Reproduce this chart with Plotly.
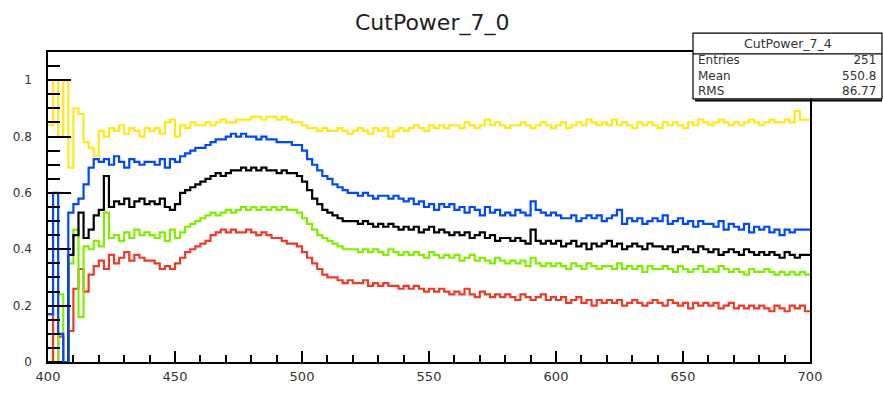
import plotly.graph_objects as go

# ---- data: histogram contents, 150 bins of width 2 from 400 to 700 ----
x_edges = list(range(400, 701, 2))

yellow_vals = [
    0.84, 1.00, 0.80, 1.00, 0.69, 0.90, 0.88, 0.78, 0.76, 0.73,
    0.82, 0.80, 0.83, 0.82, 0.84, 0.81, 0.83, 0.82, 0.80, 0.83,
    0.82, 0.83, 0.81, 0.85, 0.86, 0.80, 0.84, 0.83, 0.85, 0.84,
    0.84, 0.85, 0.84, 0.85, 0.86, 0.85, 0.85, 0.86, 0.86, 0.86,
    0.87, 0.87, 0.86, 0.87, 0.87, 0.86, 0.87, 0.86, 0.85, 0.85,
    0.84, 0.83, 0.83, 0.82, 0.83, 0.82, 0.82, 0.83, 0.82, 0.81,
    0.82, 0.83, 0.82, 0.81, 0.83, 0.82, 0.83, 0.80, 0.82, 0.83,
    0.82, 0.83, 0.84, 0.83, 0.82, 0.84, 0.83, 0.84, 0.83, 0.84,
    0.84, 0.83, 0.85, 0.84, 0.83, 0.84, 0.86, 0.84, 0.85, 0.84,
    0.83, 0.84, 0.84, 0.85, 0.84, 0.83, 0.84, 0.85, 0.84, 0.83,
    0.84, 0.85, 0.83, 0.84, 0.85, 0.84, 0.86, 0.85, 0.84, 0.85,
    0.84, 0.86, 0.84, 0.85, 0.84, 0.83, 0.85, 0.84, 0.85, 0.84,
    0.83, 0.85, 0.84, 0.85, 0.84, 0.83, 0.85, 0.84, 0.86, 0.85,
    0.84, 0.85, 0.86, 0.85, 0.84, 0.85, 0.84, 0.85, 0.86, 0.85,
    0.84, 0.85, 0.86, 0.85, 0.85, 0.86, 0.85, 0.89, 0.86, 0.86,
]

blue_vals = [
    0.17, 0.60, 0.10, 0.00, 0.53, 0.56, 0.58, 0.63, 0.69, 0.72,
    0.71, 0.72, 0.70, 0.73, 0.71, 0.69, 0.72, 0.71, 0.70, 0.71,
    0.71, 0.70, 0.72, 0.69, 0.72, 0.71, 0.73, 0.74, 0.75, 0.76,
    0.76, 0.77, 0.78, 0.79, 0.79, 0.80, 0.81, 0.80, 0.81, 0.80,
    0.80, 0.79, 0.80, 0.79, 0.79, 0.78, 0.78, 0.78, 0.77, 0.77,
    0.75, 0.72, 0.70, 0.68, 0.66, 0.65, 0.63, 0.62, 0.61, 0.60,
    0.60, 0.59, 0.60, 0.59, 0.58, 0.59, 0.59, 0.58, 0.59, 0.58,
    0.57, 0.58, 0.56, 0.57, 0.55, 0.56, 0.54, 0.56, 0.55, 0.56,
    0.54, 0.55, 0.53, 0.55, 0.54, 0.52, 0.55, 0.53, 0.54, 0.52,
    0.53, 0.52, 0.54, 0.53, 0.52, 0.57, 0.54, 0.53, 0.52, 0.53,
    0.52, 0.51, 0.51, 0.52, 0.50, 0.51, 0.52, 0.51, 0.52, 0.50,
    0.51, 0.52, 0.54, 0.49, 0.51, 0.50, 0.51, 0.49, 0.50, 0.51,
    0.50, 0.52, 0.49, 0.50, 0.51, 0.49, 0.50, 0.48, 0.50, 0.49,
    0.49, 0.48, 0.50, 0.47, 0.49, 0.48, 0.47, 0.49, 0.46, 0.48,
    0.47, 0.48, 0.46, 0.47, 0.45, 0.47, 0.46, 0.47, 0.47, 0.47,
]

black_vals = [
    0.00, 0.00, 0.00, 0.00, 0.38, 0.45, 0.53, 0.44, 0.47, 0.52,
    0.54, 0.66, 0.55, 0.57, 0.56, 0.58, 0.55, 0.57, 0.58, 0.56,
    0.57, 0.56, 0.58, 0.55, 0.54, 0.56, 0.60, 0.61, 0.62, 0.63,
    0.64, 0.65, 0.66, 0.67, 0.66, 0.67, 0.68, 0.68, 0.69, 0.68,
    0.69, 0.68, 0.69, 0.68, 0.68, 0.67, 0.68, 0.67, 0.67, 0.66,
    0.64, 0.61, 0.58, 0.56, 0.54, 0.53, 0.52, 0.51, 0.50, 0.50,
    0.50, 0.49, 0.50, 0.49, 0.48, 0.49, 0.48, 0.49, 0.48, 0.47,
    0.48, 0.47, 0.48, 0.46, 0.47, 0.48, 0.46, 0.47, 0.46, 0.45,
    0.46, 0.45, 0.46, 0.44, 0.45, 0.46, 0.44, 0.45, 0.43, 0.44,
    0.44, 0.43, 0.44, 0.43, 0.42, 0.47, 0.43, 0.42, 0.43, 0.42,
    0.43, 0.41, 0.42, 0.43, 0.41, 0.42, 0.40, 0.42, 0.41, 0.42,
    0.43, 0.41, 0.42, 0.40, 0.41, 0.42, 0.41, 0.40, 0.42, 0.41,
    0.41, 0.40, 0.41, 0.39, 0.40, 0.41, 0.40, 0.39, 0.41, 0.40,
    0.39, 0.40, 0.38, 0.39, 0.40, 0.39, 0.38, 0.40, 0.39, 0.38,
    0.39, 0.38, 0.39, 0.38, 0.37, 0.39, 0.38, 0.37, 0.38, 0.38,
]

green_vals = [
    0.00, 0.00, 0.24, 0.00, 0.35, 0.47, 0.16, 0.41, 0.40, 0.43,
    0.41, 0.53, 0.44, 0.45, 0.43, 0.46, 0.44, 0.47, 0.45, 0.46,
    0.45, 0.44, 0.46, 0.43, 0.47, 0.44, 0.46, 0.48, 0.49, 0.50,
    0.51, 0.52, 0.53, 0.52, 0.53, 0.54, 0.53, 0.54, 0.55, 0.54,
    0.55, 0.54, 0.55, 0.54, 0.55, 0.54, 0.55, 0.54, 0.54, 0.53,
    0.51, 0.49, 0.47, 0.45, 0.44, 0.43, 0.42, 0.41, 0.40, 0.40,
    0.40, 0.39, 0.40, 0.39, 0.40, 0.39, 0.38, 0.40, 0.39, 0.38,
    0.39, 0.38, 0.39, 0.38, 0.37, 0.39, 0.38, 0.37, 0.38, 0.37,
    0.38, 0.36, 0.37, 0.38, 0.36, 0.37, 0.36, 0.35, 0.37, 0.36,
    0.35, 0.36, 0.35, 0.36, 0.34, 0.37, 0.35, 0.34, 0.35, 0.34,
    0.35, 0.34, 0.33, 0.35, 0.34, 0.33, 0.35, 0.34, 0.33, 0.34,
    0.34, 0.33, 0.35, 0.33, 0.34, 0.33, 0.34, 0.32, 0.34, 0.33,
    0.33, 0.34, 0.33, 0.32, 0.34, 0.33, 0.32, 0.33, 0.34, 0.32,
    0.33, 0.32, 0.34, 0.33, 0.32, 0.33, 0.32, 0.31, 0.33, 0.32,
    0.32, 0.33, 0.32, 0.31, 0.32, 0.31, 0.32, 0.31, 0.32, 0.31,
]

red_vals = [
    0.17, 0.00, 0.09, 0.00, 0.11, 0.26, 0.33, 0.25, 0.31, 0.34,
    0.36, 0.33, 0.38, 0.35, 0.37, 0.39, 0.36, 0.38, 0.37, 0.36,
    0.36, 0.35, 0.33, 0.34, 0.33, 0.35, 0.37, 0.39, 0.40, 0.41,
    0.42, 0.43, 0.45, 0.46, 0.47, 0.46, 0.47, 0.46, 0.46, 0.47,
    0.46, 0.45, 0.46, 0.45, 0.44, 0.44, 0.43, 0.42, 0.42, 0.41,
    0.39, 0.37, 0.35, 0.33, 0.31, 0.30, 0.30, 0.29, 0.28, 0.29,
    0.28, 0.28, 0.29, 0.27, 0.28, 0.27, 0.28, 0.27, 0.27, 0.26,
    0.27, 0.26, 0.27, 0.26, 0.25, 0.26, 0.25, 0.26, 0.25, 0.24,
    0.25, 0.24, 0.26, 0.24, 0.23, 0.25, 0.24, 0.23, 0.24, 0.23,
    0.24, 0.23, 0.22, 0.24, 0.23, 0.22, 0.23, 0.24, 0.22, 0.23,
    0.22, 0.23, 0.21, 0.22, 0.23, 0.21, 0.22, 0.20, 0.22, 0.21,
    0.22, 0.21, 0.22, 0.20, 0.21, 0.22, 0.21, 0.20, 0.21, 0.22,
    0.21, 0.20, 0.22, 0.21, 0.20, 0.21, 0.19, 0.21, 0.20, 0.21,
    0.20, 0.21, 0.19, 0.20, 0.21, 0.19, 0.20, 0.19, 0.20, 0.19,
    0.20, 0.19, 0.18, 0.20, 0.19, 0.18, 0.20, 0.19, 0.20, 0.18,
]

series_names = ["CutPower_7_0", "CutPower_7_1", "CutPower_7_2", "CutPower_7_3", "CutPower_7_4"]
series_colors = ["#ee3a28", "#80ee00", "#000000", "#0048ff", "#ffe81a"]
series_values = [red_vals, green_vals, black_vals, blue_vals, yellow_vals]

title_text = "CutPower_7_0"
stats_title = "CutPower_7_4"
stats_labels = ["Entries", "Mean", "RMS"]
stats_values = ["251", "550.8", "86.77"]

# ---- figure ----
fig = go.Figure()
for name, color, vals in zip(series_names, series_colors, series_values):
    fig.add_trace(go.Scatter(
        x=x_edges,
        y=vals + [vals[-1]],
        mode="lines",
        line=dict(color=color, width=2.2, shape="hv"),
        name=name,
        showlegend=False,
        hoverinfo="skip",
    ))

W, H = 883, 396
L, R, T, B = 48, 73, 52, 14
pw, ph = W - L - R, H - T - B


def px(xp):
    return (xp - L) / pw


def py(yp):
    return (H - B - yp) / ph


FONT = "DejaVu Sans, Arial, sans-serif"

fig.update_layout(
    width=W, height=H, autosize=False,
    margin=dict(l=L, r=R, t=T, b=B, pad=0),
    paper_bgcolor="white", plot_bgcolor="white",
    font=dict(family=FONT, color="#222"),
    xaxis=dict(
        range=[400, 700], showgrid=False, zeroline=False,
        showline=True, linecolor="black", linewidth=1.5, mirror=True,
        ticks="inside", ticklen=11, tickwidth=1.5, tickcolor="black",
        tick0=400, dtick=50,
        minor=dict(ticks="inside", ticklen=7, tickwidth=1.5, tickcolor="black", dtick=10),
        tickfont=dict(size=13, color="#333"),
        ticklabelstandoff=2,
    ),
    yaxis=dict(
        range=[0, 1.1], showgrid=False, zeroline=False,
        showline=True, linecolor="black", linewidth=1.5, mirror=True,
        ticks="inside", ticklen=23, tickwidth=1.5, tickcolor="black",
        tick0=0, dtick=0.2,
        minor=dict(ticks="inside", ticklen=12, tickwidth=1.5, tickcolor="black", dtick=0.05),
        tickfont=dict(size=12, color="#333"),
        ticklabelstandoff=12,
    ),
)

# title
fig.add_annotation(
    text=title_text, xref="paper", yref="paper",
    x=px(432), y=py(21), xanchor="center", yanchor="middle",
    showarrow=False, font=dict(size=22, color="#222", family=FONT),
)

# stats box
bx0, bx1 = px(693), px(882)
by_top, by_bot, by_div = py(32), py(102), py(54)
fig.add_shape(type="rect", xref="paper", yref="paper",
              x0=bx0, x1=bx1, y0=by_bot, y1=by_top,
              line=dict(color="black", width=1.2), fillcolor="white", layer="above")
fig.add_shape(type="line", xref="paper", yref="paper",
              x0=bx0, x1=bx1, y0=by_div, y1=by_div,
              line=dict(color="black", width=1.2), layer="above")
fig.add_shape(type="line", xref="paper", yref="paper",
              x0=px(695), x1=bx1, y0=py(103.5), y1=py(103.5),
              line=dict(color="black", width=2), layer="above")

fig.add_annotation(
    text=stats_title, xref="paper", yref="paper",
    x=px(788), y=py(43), xanchor="center", yanchor="middle",
    showarrow=False, borderpad=0, font=dict(size=12.5, color="#333", family=FONT),
)
fig.add_annotation(
    text="<br>".join(stats_labels), xref="paper", yref="paper",
    x=px(697), y=py(77.5), xanchor="left", yanchor="middle", align="left",
    showarrow=False, borderpad=0, font=dict(size=12, color="#333", family=FONT),
)
fig.add_annotation(
    text="<br>".join(stats_values), xref="paper", yref="paper",
    x=px(877), y=py(77.5), xanchor="right", yanchor="middle", align="right",
    showarrow=False, borderpad=0, font=dict(size=12, color="#333", family=FONT),
)

fig.write_html(
    "out.html",
    config={"displayModeBar": False},
    post_script="document.body.style.margin='0';document.body.style.overflow='hidden';",
)
